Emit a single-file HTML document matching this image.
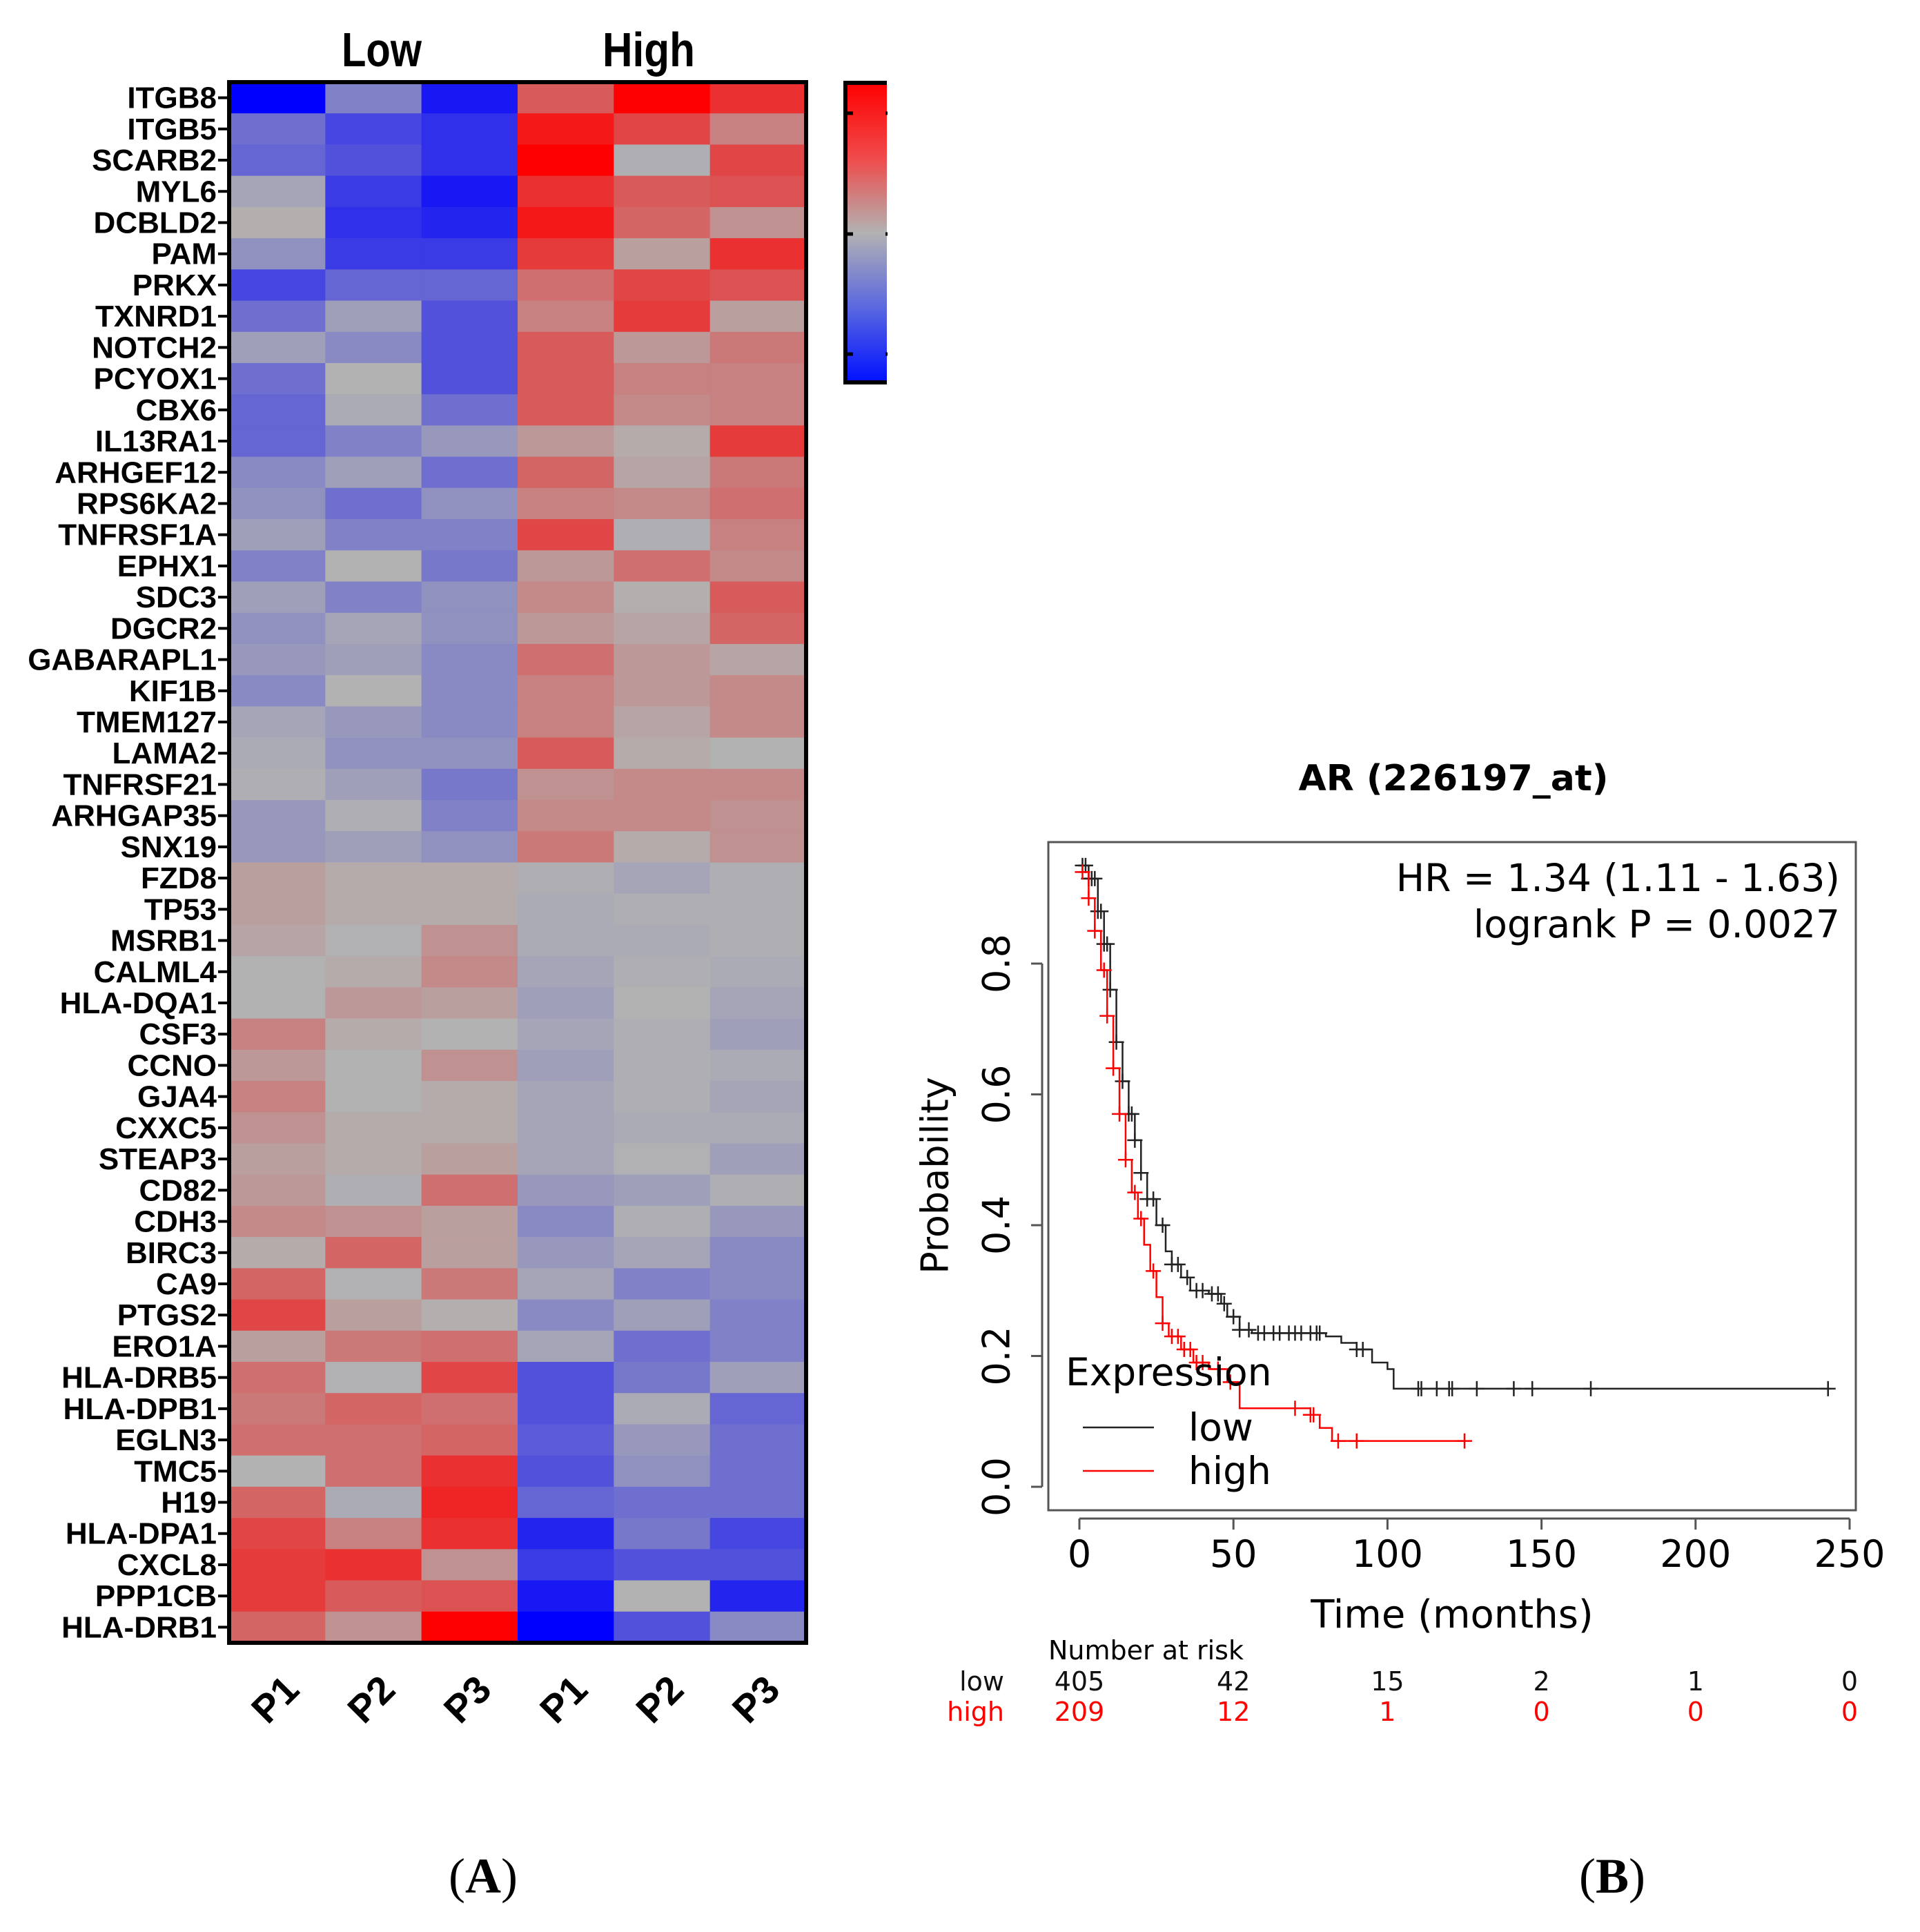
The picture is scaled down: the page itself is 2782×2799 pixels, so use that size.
<!DOCTYPE html>
<html><head><meta charset="utf-8"><style>
html,body{margin:0;padding:0;background:#fff;}
svg{display:block;}
</style></head><body>
<svg id="fig" width="2782" height="2799" viewBox="0 0 2782 2799" xmlns="http://www.w3.org/2000/svg">
<defs>
<linearGradient id="cbg" x1="0" y1="0" x2="0" y2="1">
<stop offset="0" stop-color="#ff0000"/><stop offset="0.25" stop-color="#f04a4a"/><stop offset="0.5" stop-color="#b2b2b2"/><stop offset="0.75" stop-color="#5a68e0"/><stop offset="1" stop-color="#0010ff"/>
</linearGradient>
</defs>
<g id="heat"></g>
<g id="km"></g>
<text x="700" y="2742" text-anchor="middle" font-family="Liberation Serif, serif" font-size="72">(<tspan font-weight="bold">A</tspan>)</text>
<text x="2336" y="2742" text-anchor="middle" font-family="Liberation Serif, serif" font-size="72">(<tspan font-weight="bold">B</tspan>)</text>
</svg>
<script>
const genes=["ITGB8","ITGB5","SCARB2","MYL6","DCBLD2","PAM","PRKX","TXNRD1","NOTCH2","PCYOX1","CBX6","IL13RA1","ARHGEF12","RPS6KA2","TNFRSF1A","EPHX1","SDC3","DGCR2","GABARAPL1","KIF1B","TMEM127","LAMA2","TNFRSF21","ARHGAP35","SNX19","FZD8","TP53","MSRB1","CALML4","HLA-DQA1","CSF3","CCNO","GJA4","CXXC5","STEAP3","CD82","CDH3","BIRC3","CA9","PTGS2","ERO1A","HLA-DRB5","HLA-DPB1","EGLN3","TMC5","H19","HLA-DPA1","CXCL8","PPP1CB","HLA-DRB1"];
const samples=["P1","P2","P3","P1","P2","P3"];
const groups=["Low","High"];
const values=[
[-1,-0.4,-0.9,0.6,1,0.8],[-0.5,-0.7,-0.8,0.9,0.7,0.4],[-0.55,-0.65,-0.8,1,-0.05,0.7],[-0.15,-0.75,-0.9,0.8,0.6,0.65],
[0.05,-0.8,-0.85,0.9,0.55,0.3],[-0.3,-0.75,-0.75,0.75,0.2,0.8],[-0.7,-0.55,-0.55,0.5,0.7,0.65],[-0.5,-0.2,-0.65,0.4,0.75,0.2],
[-0.2,-0.35,-0.65,0.6,0.25,0.45],[-0.5,0,-0.65,0.6,0.4,0.4],[-0.55,-0.1,-0.5,0.6,0.35,0.4],[-0.55,-0.4,-0.25,0.25,0.1,0.75],
[-0.35,-0.2,-0.5,0.55,0.15,0.45],[-0.3,-0.5,-0.3,0.4,0.35,0.5],[-0.2,-0.4,-0.4,0.7,-0.05,0.4],[-0.4,-0.02,-0.45,0.25,0.5,0.35],
[-0.2,-0.4,-0.3,0.35,0.05,0.6],[-0.3,-0.15,-0.3,0.25,0.15,0.55],[-0.25,-0.2,-0.35,0.5,0.25,0.15],[-0.35,0,-0.35,0.4,0.25,0.35],
[-0.15,-0.25,-0.35,0.4,0.15,0.35],[-0.1,-0.3,-0.3,0.6,0.1,0],[-0.05,-0.2,-0.45,0.3,0.35,0.35],[-0.25,-0.05,-0.4,0.35,0.35,0.3],
[-0.25,-0.2,-0.3,0.45,0.1,0.3],[0.2,0.1,0.1,-0.05,-0.15,-0.05],[0.2,0.1,0.1,-0.1,-0.05,-0.05],[0.15,-0.03,0.3,-0.1,-0.1,-0.05],
[0,0.1,0.35,-0.15,-0.05,-0.1],[0,0.25,0.2,-0.2,0,-0.15],[0.4,0.1,0,-0.15,-0.05,-0.2],[0.25,0,0.3,-0.2,-0.05,-0.1],
[0.4,0,0.1,-0.15,-0.05,-0.15],[0.3,0.1,0.1,-0.15,-0.1,-0.1],[0.2,0.1,0.2,-0.15,-0.03,-0.2],[0.25,-0.05,0.5,-0.25,-0.2,-0.05],
[0.35,0.3,0.2,-0.35,-0.05,-0.25],[0.1,0.55,0.2,-0.25,-0.15,-0.35],[0.55,-0.03,0.45,-0.15,-0.4,-0.35],[0.7,0.2,0.05,-0.35,-0.2,-0.4],
[0.2,0.45,0.5,-0.15,-0.5,-0.4],[0.5,-0.03,0.7,-0.65,-0.45,-0.2],[0.45,0.55,0.5,-0.65,-0.1,-0.55],[0.5,0.5,0.55,-0.6,-0.25,-0.5],
[0,0.5,0.8,-0.65,-0.3,-0.5],[0.55,-0.1,0.85,-0.55,-0.5,-0.5],[0.7,0.4,0.8,-0.85,-0.45,-0.7],[0.75,0.8,0.3,-0.75,-0.65,-0.65],
[0.75,0.6,0.65,-0.9,0,-0.85],[0.55,0.3,1,-1,-0.65,-0.35]];

const lowT=[0,3,6,8,10,12,14,16,18,20,22,25,28,30,33,36,42,46,48,52,56,80,85,90,95,100,102,244];
const lowP=[0.95,0.93,0.88,0.83,0.76,0.68,0.62,0.57,0.53,0.48,0.44,0.40,0.36,0.34,0.32,0.30,0.295,0.28,0.26,0.24,0.235,0.23,0.22,0.21,0.19,0.18,0.15,0.15];
const highT=[0,3,5,7,9,11,13,15,17,19,21,23,25,27,29,33,37,42,48,52,75,78,82,125];
const highP=[0.94,0.90,0.85,0.79,0.72,0.64,0.57,0.50,0.45,0.41,0.37,0.33,0.29,0.25,0.23,0.21,0.19,0.18,0.16,0.12,0.11,0.09,0.07,0.07];
const lowCens=[1,2,3,4,5,6,7,8,9,10,12,14,16,17,18,20,22,24,27,30,32,35,38,40,43,45,47,50,52,55,58,60,63,65,68,70,72,75,77,78,90,92,110,111,116,120,121,129,141,147,166,243];
const highCens=[1,3,5,8,9,11,13,15,18,20,24,27,30,32,34,36,38,40,45,49,70,75,76,84,90,125];
const xTicks=[0,50,100,150,200,250];
const yTicks=[0,0.2,0.4,0.6,0.8];
const riskLow=[405,42,15,2,1,0];
const riskHigh=[209,12,1,0,0,0];

const NS="http://www.w3.org/2000/svg";
function mk(parent,tag,attrs,txt){const e=document.createElementNS(NS,tag);for(const k in attrs)e.setAttribute(k,attrs[k]);if(txt!==undefined)e.textContent=txt;parent.appendChild(e);return e;}
function color(v){const g=178;let r,gg,b;const a=Math.pow(Math.abs(v),1.4);if(v>=0){r=g+(255-g)*a;gg=g*(1-a);b=g*(1-a);}else{r=g*(1-a);gg=g*(1-a);b=g+(255-g)*a;}return `rgb(${Math.round(r)},${Math.round(gg)},${Math.round(b)})`;}

// heatmap
const H=document.getElementById('heat');
const hx0=332,hx1=1168,hy0=119,hy1=2380;
const cw=(hx1-hx0)/samples.length, rh=(hy1-hy0)/genes.length;
const colX=i=>hx0+i*cw, rowY=j=>hy0+j*rh;
genes.forEach((g,j)=>{
  values[j].forEach((v,i)=>{
    const c=mk(H,'rect',{x:colX(i),y:rowY(j),width:cw+0.5,height:rh+0.5,fill:color(v)});
    
    
  });
  const t=mk(H,'text',{x:hx0-18,y:rowY(j)+rh/2+15,'text-anchor':'end','font-family':'Liberation Sans, sans-serif','font-weight':'bold','font-size':'44'},g);
  
  
  mk(H,'line',{x1:hx0-16,x2:hx0,y1:rowY(j)+rh/2,y2:rowY(j)+rh/2,stroke:'#000','stroke-width':4});
});
mk(H,'rect',{x:hx0,y:hy0,width:hx1-hx0,height:hy1-hy0,fill:'none',stroke:'#000','stroke-width':6});
samples.forEach((s,i)=>{
  const cx=colX(i)+cw/2, cy=2465;
  const t=mk(H,'text',{x:cx,y:cy,'text-anchor':'middle','dominant-baseline':'middle','font-family':'Liberation Sans, sans-serif','font-weight':'bold','font-size':'56',transform:`rotate(-45 ${cx} ${cy})`},s);
  
  
});
const gx=[553,940], gw=[116,134];
groups.forEach((g,k)=>{
  const t=mk(H,'text',{x:gx[k]-gw[k]/2,y:96,'font-family':'Liberation Sans, sans-serif','font-weight':'bold','font-size':'70',textLength:gw[k],lengthAdjust:'spacingAndGlyphs'},g);
  
  
});
// colorbar
const cb=mk(H,'rect',{x:1225,y:120,width:60,height:434,fill:'url(#cbg)'});


mk(H,'path',{d:'M1285 120 H1225 V554 H1285',fill:'none',stroke:'#000','stroke-width':6});
[164,339,513].forEach(y=>{mk(H,'line',{x1:1225,x2:1236,y1:y,y2:y,stroke:'#000','stroke-width':5});mk(H,'line',{x1:1283,x2:1286,y1:y,y2:y,stroke:'#000','stroke-width':5});});

// KM
const K=document.getElementById('km');
const bx0=1519,bx1=2689,by0=1220,by1=2188;
const X=t=>1564+t*(2680-1564)/250, Y=p=>2154-p*(2154-1396)/0.8;
const FF='DejaVu Sans, Liberation Sans, sans-serif';
mk(K,'rect',{x:bx0,y:by0,width:bx1-bx0,height:by1-by0,fill:'none',stroke:'#555','stroke-width':3});
const tt=mk(K,'text',{x:2106,y:1145,'text-anchor':'middle','font-family':FF,'font-weight':'bold','font-size':'52'},'AR (226197_at)');


mk(K,'line',{x1:X(0),x2:X(250),y1:2200,y2:2200,stroke:'#555','stroke-width':3});
xTicks.forEach(v=>{
  mk(K,'line',{x1:X(v),x2:X(v),y1:2200,y2:2216,stroke:'#555','stroke-width':3});
  const t=mk(K,'text',{x:X(v),y:2270,'text-anchor':'middle','font-family':FF,'font-size':'54'},String(v));
  
  
});
mk(K,'line',{x1:1510,x2:1510,y1:Y(0),y2:Y(0.8),stroke:'#555','stroke-width':3});
yTicks.forEach(v=>{
  mk(K,'line',{x1:1494,x2:1510,y1:Y(v),y2:Y(v),stroke:'#555','stroke-width':3});
  const t=mk(K,'text',{x:1448,y:Y(v),'text-anchor':'middle','dominant-baseline':'middle','font-family':FF,'font-size':'54',transform:`rotate(-90 1448 ${Y(v)})`},v.toFixed(1));
  
  
});
const yl=mk(K,'text',{x:1359,y:1703,'text-anchor':'middle','dominant-baseline':'middle','font-family':FF,'font-size':'54',transform:'rotate(-90 1359 1703)'},'Probability');


const xl=mk(K,'text',{x:2104,y:2358,'text-anchor':'middle','font-family':FF,'font-size':'56'},'Time (months)');


function stepPath(T,P){let d=`M${X(T[0])} ${Y(P[0])}`;for(let i=1;i<T.length;i++){d+=` H${X(T[i])} V${Y(P[i])}`;}return d;}
function probAt(T,P,t){let p=P[0];for(let i=0;i<T.length;i++){if(T[i]<=t)p=P[i];}return p;}
[[lowT,lowP,lowCens,'#222','low'],[highT,highP,highCens,'#f00','high']].forEach(([T,P,C,col,nm])=>{
  const l=mk(K,'path',{d:stepPath(T,P),fill:'none',stroke:col,'stroke-width':2.5});
  
  
  C.forEach(t=>{
    const x=X(t),y=Y(probAt(T,P,t));
    const c=mk(K,'path',{d:`M${x-11} ${y} H${x+11} M${x} ${y-11} V${y+11}`,stroke:col,'stroke-width':2.5});
    
    
  });
});
const hr=mk(K,'text',{x:2666,y:1291,'text-anchor':'end','font-family':FF,'font-size':'55'},'HR = 1.34 (1.11 - 1.63)');


const lr=mk(K,'text',{x:2666,y:1358,'text-anchor':'end','font-family':FF,'font-size':'55'},'logrank P = 0.0027');


const lt=mk(K,'text',{x:1544,y:2007,'font-family':FF,'font-size':'55'},'Expression');


[['low','#222',2068],['high','#f00',2131]].forEach(([n,c,y])=>{
  mk(K,'line',{x1:1569,x2:1672,y1:y,y2:y,stroke:c,'stroke-width':2.5});
  const t=mk(K,'text',{x:1722,y:y+19,'font-family':FF,'font-size':'55'},n);
  
  
});
const nr=mk(K,'text',{x:1519,y:2404,'font-family':FF,'font-size':'38'},'Number at risk');


mk(K,'text',{x:1455,y:2449,'text-anchor':'end','font-family':FF,'font-size':'38',fill:'#111'},'low');
mk(K,'text',{x:1455,y:2493,'text-anchor':'end','font-family':FF,'font-size':'38',fill:'#f00'},'high');
xTicks.forEach((v,i)=>{
  const a=mk(K,'text',{x:X(v),y:2449,'text-anchor':'middle','font-family':FF,'font-size':'38',fill:'#111'},String(riskLow[i]));
  
  
  const b=mk(K,'text',{x:X(v),y:2493,'text-anchor':'middle','font-family':FF,'font-size':'38',fill:'#f00'},String(riskHigh[i]));
  
  
});
</script>
</body></html>
